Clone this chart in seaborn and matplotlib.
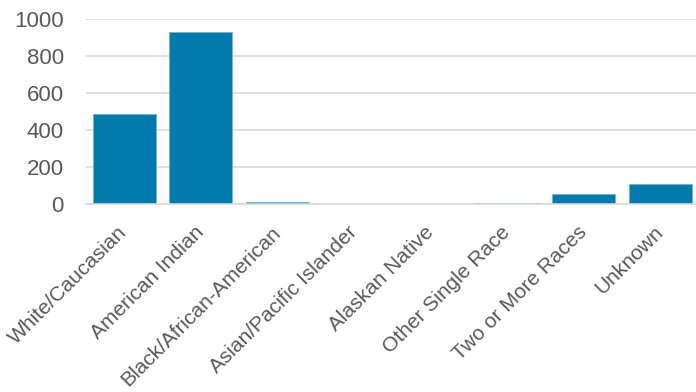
import matplotlib
matplotlib.use("Agg")
import matplotlib.pyplot as plt
import seaborn as sns
import pandas as pd

categories = ["White/Caucasian", "American Indian", "Black/African-American",
              "Asian/Pacific Islander", "Alaskan Native", "Other Single Race",
              "Two or More Races", "Unknown"]
values = [486, 928, 11, 1, 1, 7, 54, 110]
yticks = [0, 200, 400, 600, 800, 1000]

sns.set_theme(style="white")
plt.rcParams['font.family'] = ['Liberation Sans', 'DejaVu Sans']

df = pd.DataFrame({"cat": categories, "val": values})
fig = plt.figure(figsize=(6.96, 3.92), dpi=100)
ax = fig.add_axes([0.1236, 0.4788, 0.88, 0.4727])
sns.barplot(data=df, x="cat", y="val", color="#007BAB", saturation=1, width=0.82,
            edgecolor="#6FB3D4", linewidth=0.6, ax=ax)
ax.set_ylim(0, 1000)
ax.set_xlim(-0.5, 7.5)
ax.set_yticks(yticks)
ax.yaxis.grid(True, color="#D9D9D9", linewidth=1.2)
ax.set_axisbelow(True)
for s in ["top", "right", "left"]:
    ax.spines[s].set_visible(False)
ax.spines["bottom"].set_color("#D9D9D9")
ax.spines["bottom"].set_linewidth(1.2)
ax.set_xlabel("")
ax.set_ylabel("")
ax.tick_params(axis="y", colors="#595959", labelsize=16, length=0, pad=16)
ax.tick_params(axis="x", colors="#595959", labelsize=15, length=0, pad=18)
plt.setp(ax.get_xticklabels(), rotation=45, ha="right", va="center", rotation_mode="anchor")
fig.savefig("out.png", dpi=100)
